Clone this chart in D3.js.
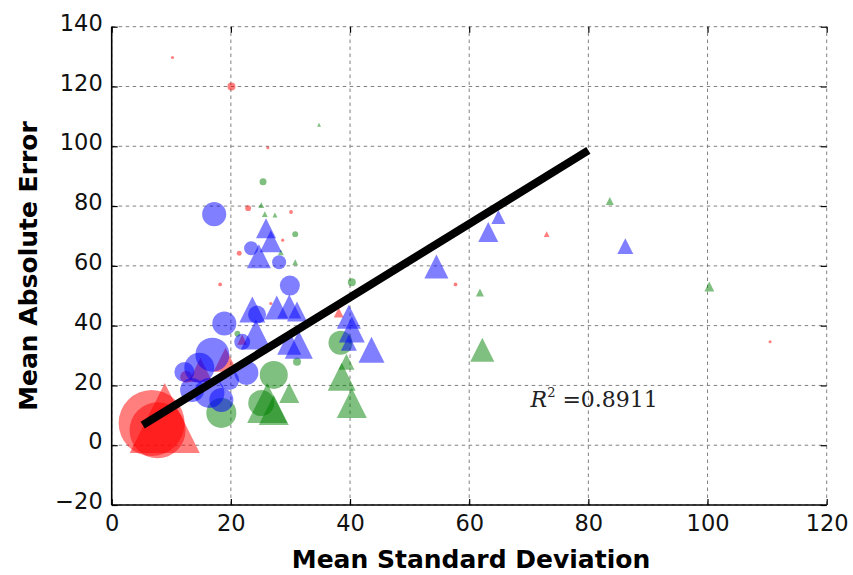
<!DOCTYPE html>
<html><head><meta charset="utf-8">
<script src="https://cdn.jsdelivr.net/npm/d3@7"></script>
<style>body{margin:0;background:#fff}svg{display:block}</style>
</head><body>
<script>
// [meanStd, meanAbsErr, weight]
const redCircles = [[6.7,7.4,889],[7.7,5.0,640],[12.5,22.9,29],[20.1,120.0,13],[10.2,129.7,2],[26.2,99.5,2],[22.9,79.3,7],[30.1,78.0,3],[21.4,64.2,5],[28.7,68.6,2],[18.2,53.8,3],[26.7,47.4,2],[57.7,53.8,3],[110.5,34.6,2]];
const redTriangles = [[8.9,9.1,1000],[14.9,25.2,118],[19.1,28.6,118],[21.9,35.3,20],[38.1,44.4,20],[73.0,70.6,7]];
const blueCircles = [[17.2,77.3,118],[23.4,65.9,40],[28.1,61.2,40],[29.9,53.4,82],[18.9,40.7,118],[24.4,43.7,66],[21.9,34.6,52],[22.6,24.2,118],[16.9,30.3,236],[14.7,25.9,184],[16.4,17.5,184],[18.4,15.1,118],[13.5,18.5,118],[12.2,24.5,82],[19.7,21.8,82]];
const blueTriangles = [[25.9,72.6,82],[26.7,68.2,99],[24.7,63.2,118],[23.6,45.4,138],[27.7,46.1,118],[29.8,46.4,118],[31.1,44.7,82],[31.4,33.6,160],[29.8,34.3,118],[39.8,43.0,118],[40.3,38.7,138],[39.8,34.3,52],[43.6,31.9,138],[54.5,59.8,118],[63.2,71.3,82],[64.9,76.3,40],[86.2,66.6,52],[24.2,37.0,184]];
const greenCircles = [[18.4,10.8,184],[25.1,14.1,138],[27.2,23.5,160],[38.4,34.3,118],[40.3,54.5,13],[25.4,88.1,10],[30.8,70.6,7],[31.1,27.9,13],[21.1,37.3,7]];
const greenTriangles = [[26.1,14.1,327],[27.2,11.8,184],[29.8,17.5,82],[38.6,22.9,160],[40.3,14.1,184],[39.4,27.9,52],[62.2,31.9,118],[61.8,51.1,13],[83.6,81.7,13],[100.3,53.1,20],[34.8,107.2,3],[25.1,80.3,7],[25.7,77.3,7],[27.4,77.0,5],[28.4,64.5,7],[30.8,61.2,7]];
const fitLine = [[5.2,6.7],[80,98.6]];
const xTicks = [0,20,40,60,80,100,120];
const yTicks = [-20,0,20,40,60,80,100,120,140];
const rSquared = "0.8911";

const W = 853, H = 575;
const m = {l:111.7, r:26.3, t:26.7, b:70};
const svg = d3.select("body").append("svg").attr("width",W).attr("height",H);
const x = d3.scaleLinear().domain([0,120]).range([m.l, W-m.r]);
const y = d3.scaleLinear().domain([-20,140]).range([H-m.b, m.t]);
const rs = d3.scaleSqrt().domain([0,1000]).range([0,35]);

// grid
const g = svg.append("g");
g.selectAll(".gx").data(xTicks).join("line")
  .attr("x1",d=>x(d)).attr("x2",d=>x(d)).attr("y1",y(-20)).attr("y2",y(140))
  .attr("stroke","#808080").attr("stroke-width",1).attr("stroke-dasharray","3.5,3.5");
g.selectAll(".gy").data(yTicks).join("line")
  .attr("y1",d=>y(d)).attr("y2",d=>y(d)).attr("x1",x(0)).attr("x2",x(120))
  .attr("stroke","#808080").attr("stroke-width",1).attr("stroke-dasharray","3.5,3.5");

const clip = svg.append("clipPath").attr("id","c").append("rect")
  .attr("x",x(0)).attr("y",y(140)).attr("width",x(120)-x(0)).attr("height",y(-20)-y(140));
const plot = svg.append("g").attr("clip-path","url(#c)");

function circles(data, color){
  plot.append("g").selectAll("circle").data(data).join("circle")
    .attr("cx",d=>x(d[0])).attr("cy",d=>y(d[1])).attr("r",d=>rs(d[2]))
    .attr("fill",color).attr("fill-opacity",0.5);
}
function triangles(data, color){
  plot.append("g").selectAll("path").data(data).join("path")
    .attr("d",d=>{const r=rs(d[2]),cx=x(d[0]),cy=y(d[1]);
      return `M${cx},${cy-r}L${cx+r},${cy+r}L${cx-r},${cy+r}Z`;})
    .attr("fill",color).attr("fill-opacity",0.5);
}
circles(redCircles,"#ff0000");
triangles(redTriangles,"#ff0000");
circles(greenCircles,"#008000");
triangles(greenTriangles,"#008000");
circles(blueCircles,"#0000ff");
triangles(blueTriangles,"#0000ff");

plot.append("path").datum(fitLine)
  .attr("d",d3.line().x(d=>x(d[0])).y(d=>y(d[1])))
  .attr("stroke","#000").attr("stroke-width",8).attr("fill","none");

// axes
const xa = svg.append("g").attr("transform",`translate(0,${y(-20)})`)
  .call(d3.axisBottom(x).tickValues(xTicks).tickSize(-6).tickPadding(10));
const xt = svg.append("g").attr("transform",`translate(0,${y(140)})`)
  .call(d3.axisTop(x).tickValues(xTicks).tickSize(-6).tickFormat(""));
const ya = svg.append("g").attr("transform",`translate(${x(0)},0)`)
  .call(d3.axisLeft(y).tickValues(yTicks).tickSize(-6).tickPadding(9).tickFormat(d=>d<0?"\u2212"+Math.abs(d):d));
const yr = svg.append("g").attr("transform",`translate(${x(120)},0)`)
  .call(d3.axisRight(y).tickValues(yTicks).tickSize(-6).tickFormat(""));
[xt,yr].forEach(a=>a.select(".domain").remove());
[xa,ya,xt,yr].forEach(a=>{a.selectAll(".tick line").attr("stroke","#000").attr("stroke-width",1.2);});
[xa,ya].forEach(a=>{a.select(".domain").attr("stroke","#000").attr("stroke-width",1.6);
  a.selectAll("text").attr("font-family","DejaVu Sans").attr("font-size",22.5).attr("fill","#111");});
ya.selectAll(".tick text").attr("dy","0.32em").attr("y",-3.5);
xa.select(".domain").attr("d",`M${x(0)},0H${x(120)}`);
ya.select(".domain").attr("d",`M0,${y(-20)}V${y(140)}`);

svg.append("text").attr("x",471).attr("y",568)
  .attr("text-anchor","middle").attr("font-family","DejaVu Sans").attr("font-weight","bold")
  .attr("font-size",25).text("Mean Standard Deviation");
svg.append("text").attr("transform",`translate(37,266) rotate(-90)`)
  .attr("text-anchor","middle").attr("font-family","DejaVu Sans").attr("font-weight","bold")
  .attr("font-size",25).text("Mean Absolute Error");

const rt = svg.append("text").attr("x",x(70.3)).attr("y",y(12.8))
  .attr("font-family","DejaVu Serif").attr("font-size",22).attr("fill","#222");
rt.append("tspan").attr("font-style","italic").text("R");
rt.append("tspan").attr("font-size",13).attr("dy",-10).text("2");
rt.append("tspan").attr("dy",10).text(" =" + rSquared);
</script>
</body></html>
